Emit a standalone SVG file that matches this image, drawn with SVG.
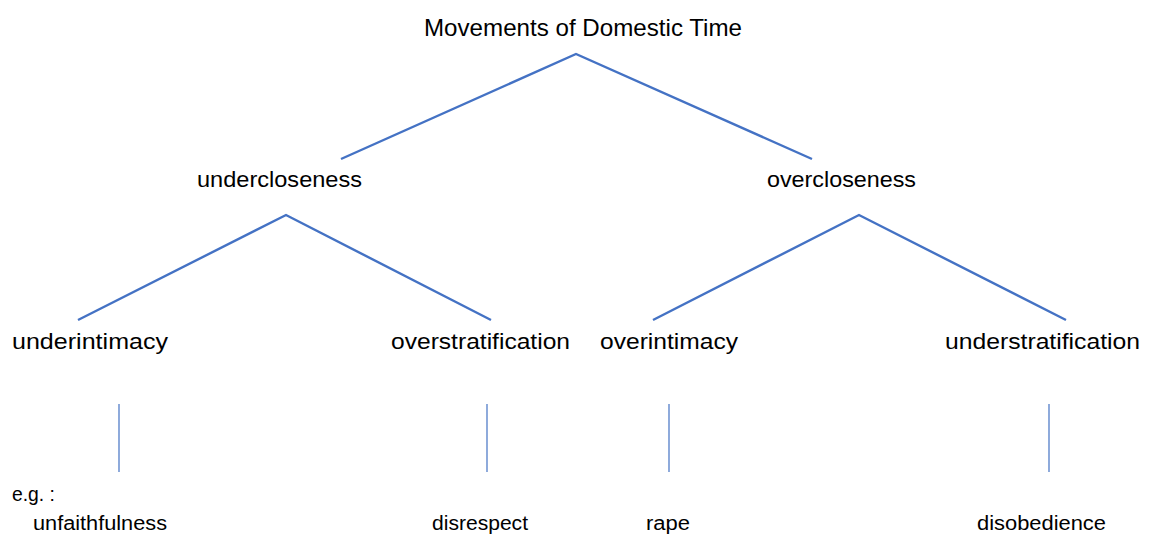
<svg xmlns="http://www.w3.org/2000/svg" width="1149" height="534" viewBox="0 0 1149 534">
<style>
text{font-family:"Liberation Sans",Arial,sans-serif;fill:#000}
.l1{font-size:24px}
.l2{font-size:22px}
.l3{font-size:19.5px}
.d{stroke:#4472C4;stroke-width:2.4;fill:none}
.v{stroke:#4472C4;stroke-width:1.2;fill:none}
</style>
<rect width="1149" height="534" fill="#fff"/>
<g id="connectors">
<polyline class="d" points="341,159 576,54 812,159"/>
<polyline class="d" points="78,320 286,215 491,320"/>
<polyline class="d" points="653,320 859,215 1066,320"/>
<line class="v" x1="119" y1="404" x2="119" y2="472"/>
<line class="v" x1="487" y1="404" x2="487" y2="472"/>
<line class="v" x1="669" y1="404" x2="669" y2="472"/>
<line class="v" x1="1049" y1="404" x2="1049" y2="472"/>
</g>
<g id="root"><text class="l1" x="424" y="36" textLength="318" lengthAdjust="spacingAndGlyphs">Movements of Domestic Time</text></g>
<g id="undercloseness"><text class="l2" x="197" y="187" textLength="165" lengthAdjust="spacingAndGlyphs">undercloseness</text></g>
<g id="overcloseness"><text class="l2" x="767" y="187" textLength="149" lengthAdjust="spacingAndGlyphs">overcloseness</text></g>
<g id="underintimacy"><text class="l2" x="12" y="349" textLength="156" lengthAdjust="spacingAndGlyphs">underintimacy</text></g>
<g id="overstratification"><text class="l2" x="391" y="349" textLength="179" lengthAdjust="spacingAndGlyphs">overstratification</text></g>
<g id="overintimacy"><text class="l2" x="600" y="349" textLength="138" lengthAdjust="spacingAndGlyphs">overintimacy</text></g>
<g id="understratification"><text class="l2" x="945" y="349" textLength="195" lengthAdjust="spacingAndGlyphs">understratification</text></g>
<g id="eg"><text class="l3" x="12" y="501" textLength="43" lengthAdjust="spacingAndGlyphs">e.g. :</text></g>
<g id="unfaithfulness"><text class="l3" x="33" y="530" textLength="134" lengthAdjust="spacingAndGlyphs">unfaithfulness</text></g>
<g id="disrespect"><text class="l3" x="432" y="530" textLength="96" lengthAdjust="spacingAndGlyphs">disrespect</text></g>
<g id="rape"><text class="l3" x="646" y="530" textLength="44" lengthAdjust="spacingAndGlyphs">rape</text></g>
<g id="disobedience"><text class="l3" x="977" y="530" textLength="129" lengthAdjust="spacingAndGlyphs">disobedience</text></g>
</svg>
